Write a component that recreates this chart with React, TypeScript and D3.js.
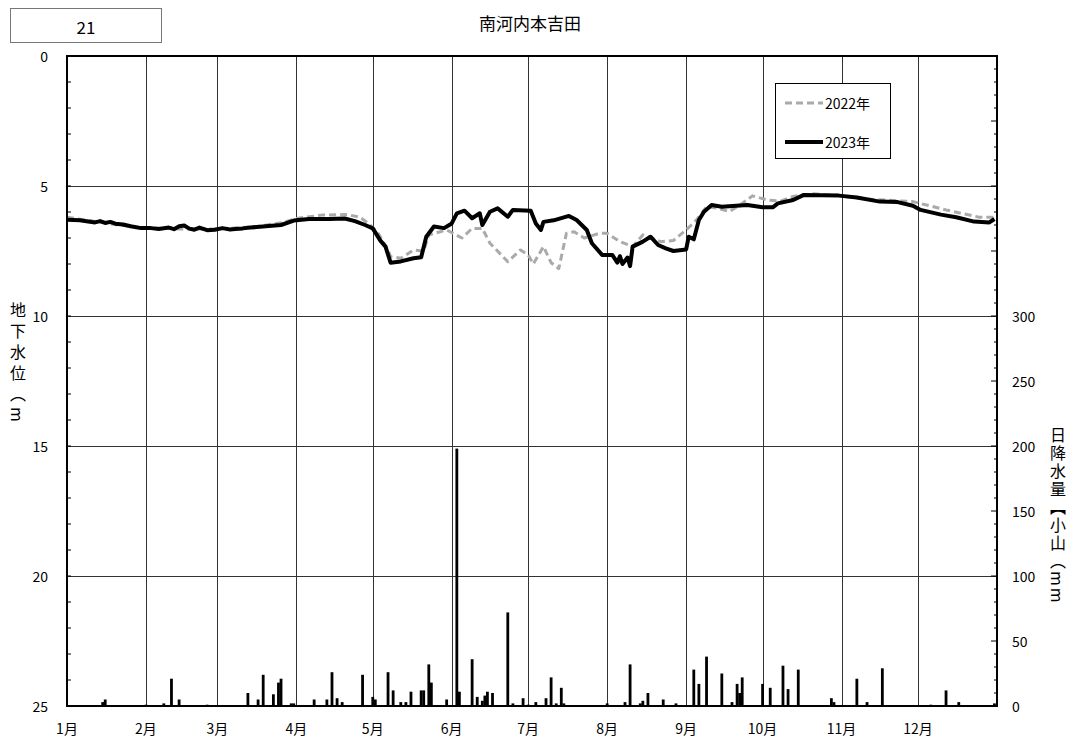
import React from 'react';
import * as d3 from 'd3';

const monthLabels = ['1月', '2月', '3月', '4月', '5月', '6月', '7月', '8月', '9月', '10月', '11月', '12月'];
const monthStartDays = [0, 31, 59, 90, 120, 151, 181, 212, 243, 273, 304, 334];
const levelTicks = [0, 5, 10, 15, 20, 25];
const rainTicks = [0, 50, 100, 150, 200, 250, 300];

// 2023 groundwater level (day of year, m)
const days2023 = [0, 5, 11, 13, 15, 17, 19, 22, 25, 29, 33, 36, 40, 42, 44, 46, 48, 50, 52, 55, 58, 61, 64, 66, 69, 72, 78, 84, 89, 95, 103, 109, 113, 117, 120, 123, 125, 127, 131, 136, 139, 141, 144, 148, 151, 153, 156, 159, 162, 163, 166, 169, 173, 175, 182, 184, 186, 187, 191, 197, 200, 204, 206, 210, 214, 216, 217, 218, 220, 221, 222, 226, 229, 232, 235, 238, 243, 244, 246, 248, 250, 253, 257, 267, 273, 277, 279, 285, 289, 303, 310, 319, 326, 332, 335, 343, 349, 356, 362, 364];
const level2023 = [6.3, 6.32, 6.4, 6.35, 6.42, 6.38, 6.45, 6.48, 6.55, 6.62, 6.62, 6.65, 6.6, 6.66, 6.55, 6.52, 6.64, 6.68, 6.6, 6.7, 6.68, 6.62, 6.67, 6.65, 6.63, 6.6, 6.55, 6.5, 6.33, 6.27, 6.27, 6.25, 6.35, 6.5, 6.63, 7.1, 7.33, 7.95, 7.9, 7.78, 7.74, 6.95, 6.56, 6.62, 6.44, 6.05, 5.95, 6.24, 6.05, 6.5, 5.99, 5.86, 6.18, 5.92, 5.95, 6.44, 6.69, 6.38, 6.32, 6.15, 6.31, 6.69, 7.2, 7.65, 7.65, 7.95, 7.7, 8.0, 7.75, 8.08, 7.33, 7.14, 6.95, 7.27, 7.4, 7.5, 7.44, 6.95, 7.05, 6.31, 5.99, 5.73, 5.8, 5.73, 5.82, 5.82, 5.67, 5.54, 5.35, 5.37, 5.44, 5.6, 5.62, 5.76, 5.92, 6.1, 6.2, 6.37, 6.4, 6.27];

// 2022 groundwater level (day of year, m)
const days2022 = [0, 10, 20, 30, 45, 60, 75, 85, 90, 100, 110, 115, 119, 122, 126, 127, 131, 136, 140, 142, 149, 155, 159, 163, 166, 173, 178, 181, 183, 187, 190, 193, 196, 199, 203, 209, 212, 217, 222, 226, 233, 238, 243, 247, 251, 255, 260, 265, 269, 275, 280, 285, 293, 303, 314, 332, 345, 358, 364];
const level2022 = [6.2, 6.35, 6.5, 6.6, 6.65, 6.65, 6.55, 6.4, 6.25, 6.12, 6.1, 6.2, 6.5, 6.8, 7.46, 7.72, 7.78, 7.46, 7.5, 6.88, 6.69, 7.0, 6.63, 6.63, 7.2, 7.91, 7.46, 7.65, 8.0, 7.33, 7.95, 8.18, 6.82, 6.76, 7.0, 6.82, 6.82, 7.14, 7.33, 6.88, 7.14, 7.1, 6.69, 6.31, 5.8, 5.85, 5.98, 5.67, 5.38, 5.54, 5.58, 5.4, 5.3, 5.37, 5.5, 5.6, 5.92, 6.2, 6.2];

// Daily precipitation (day of year, mm)
const rainDays = [14, 15, 31, 38, 41, 44, 55, 71, 75, 77, 81, 83, 84, 88, 89, 97, 102, 104, 106, 108, 116, 120, 121, 126, 128, 131, 133, 135, 139, 140, 142, 143, 149, 153, 154, 159, 161, 163, 164, 165, 167, 173, 175, 179, 181, 184, 188, 190, 192, 194, 195, 212, 219, 221, 225, 226, 228, 234, 239, 246, 248, 251, 257, 261, 263, 264, 265, 273, 276, 281, 283, 287, 300, 301, 310, 314, 320, 339, 345, 350, 364];
const rainMm = [3, 5, 1, 2, 21, 5, 1, 10, 5, 24, 9, 18, 21, 2, 2, 5, 5, 26, 6, 3, 24, 7, 5, 26, 12, 3, 3, 11, 12, 12, 32, 18, 5, 198, 11, 36, 7, 4, 8, 11, 10, 72, 2, 6, 1, 3, 6, 22, 2, 14, 2, 2, 3, 32, 2, 4, 10, 5, 2, 28, 17, 38, 25, 3, 17, 10, 22, 17, 14, 31, 13, 28, 6, 3, 21, 3, 29, 1, 12, 3, 2];

const W = 1073;
const H = 740;
const L = 67, R = 997, T = 56, B = 706;
const FONT = '"Noto Sans CJK JP", "Noto Sans", sans-serif';

export default function App() {
  const x = d3.scaleLinear().domain([0, 365]).range([L, R]);
  const y = d3.scaleLinear().domain([0, 25]).range([T, B]);
  const yr = d3.scaleLinear().domain([0, 500]).range([B, T]);

  const line = d3.line<[number, number]>().x(d => x(d[0])).y(d => y(d[1]));
  const pts2023 = days2023.map((d, i) => [d, level2023[i]] as [number, number]);
  const pts2022 = days2022.map((d, i) => [d, level2022[i]] as [number, number]);

  const minorLeft = d3.range(0, 26, 1);
  const minorRight = d3.range(0, 510, 10);

  return (
    <svg width={W} height={H} style={{ position: 'absolute', left: 0, top: 0, background: '#fff' }} fontFamily={FONT}>
      <rect x={0} y={0} width={W} height={H} fill="#fff" />
      {/* number box */}
      <rect x={10.5} y={8.5} width={151} height={34} fill="#fff" stroke="#777" strokeWidth={1} />
      <text x={86} y={26} textAnchor="middle" dominantBaseline="central" fontSize={17} fill="#000">21</text>
      {/* title */}
      <text x={530} y={22} textAnchor="middle" dominantBaseline="central" fontSize={17} fill="#000">南河内本吉田</text>

      {/* grid */}
      {levelTicks.slice(1, -1).map(v => (
        <line key={'h' + v} x1={L} x2={R} y1={Math.round(y(v)) + 0.5} y2={Math.round(y(v)) + 0.5} stroke="#333" strokeWidth={1} />
      ))}
      {monthStartDays.slice(1).map(d => (
        <line key={'v' + d} x1={Math.round(x(d)) + 0.5} x2={Math.round(x(d)) + 0.5} y1={T} y2={B} stroke="#333" strokeWidth={1} />
      ))}

      {/* rain bars */}
      {rainDays.map((d, i) => (
        <rect key={'r' + i} x={x(d) - 1.4} y={yr(rainMm[i])} width={2.8} height={B - yr(rainMm[i])} fill="#000" />
      ))}

      {/* lines */}
      <path d={line(pts2022) || ''} fill="none" stroke="#aaa" strokeWidth={3} strokeDasharray="7,4" strokeLinejoin="round" />
      <path d={line(pts2023) || ''} fill="none" stroke="#000" strokeWidth={4} strokeLinejoin="round" />

      {/* frame */}
      <rect x={L} y={T} width={R - L} height={B - T} fill="none" stroke="#000" strokeWidth={2} />

      {/* left ticks */}
      {minorLeft.map(v => (
        <line key={'lt' + v} x1={L} x2={L + 4} y1={y(v)} y2={y(v)} stroke="#000" strokeWidth={1} />
      ))}
      {levelTicks.map(v => (
        <text key={'ll' + v} x={48} y={y(v)} textAnchor="end" dominantBaseline="central" fontSize={14} fill="#000">{v}</text>
      ))}

      {/* right ticks */}
      {minorRight.map(v => (
        <line key={'rt' + v} x1={R - (v % 50 === 0 ? 6 : 3)} x2={R} y1={yr(v)} y2={yr(v)} stroke="#000" strokeWidth={1} />
      ))}
      {rainTicks.map(v => (
        <text key={'rl' + v} x={1012} y={yr(v)} textAnchor="start" dominantBaseline="central" fontSize={14} fill="#000">{v}</text>
      ))}

      {/* month labels */}
      {monthStartDays.map((d, i) => (
        <text key={'m' + i} x={x(d)} y={728} textAnchor="middle" dominantBaseline="central" fontSize={14} fill="#000">{monthLabels[i]}</text>
      ))}

      {/* axis titles */}
      <text x={18} y={302} fontSize={16} fill="#000" style={{ writingMode: 'vertical-rl' }} letterSpacing={5}>地下水位（m</text>
      <text x={1058} y={427} fontSize={16} fill="#000" style={{ writingMode: 'vertical-rl' }} letterSpacing={2}>日降水量【小山（mm</text>

      {/* legend */}
      <rect x={775.5} y={83.5} width={115} height={75} fill="#fff" stroke="#000" strokeWidth={1} />
      <line x1={785} x2={823} y1={103} y2={103} stroke="#aaa" strokeWidth={3} strokeDasharray="7,4" />
      <text x={825} y={103} dominantBaseline="central" fontSize={14} fill="#000">2022年</text>
      <line x1={785} x2={823} y1={142} y2={142} stroke="#000" strokeWidth={4} />
      <text x={825} y={142} dominantBaseline="central" fontSize={14} fill="#000">2023年</text>
    </svg>
  );
}
